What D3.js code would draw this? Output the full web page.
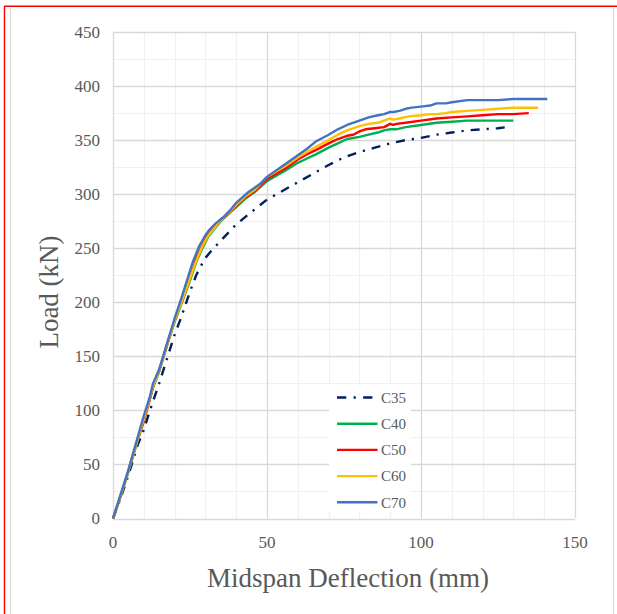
<!DOCTYPE html>
<html><head><meta charset="utf-8">
<script src="https://cdn.jsdelivr.net/npm/d3@7"></script>
<style>html,body{margin:0;padding:0;background:#fff;}svg{display:block;}</style>
</head><body>
<svg id="chart" width="617" height="614"></svg>
<script>
const seriesNames = ["C35","C40","C50","C60","C70"];
const seriesColors = ["#002060","#00b050","#ff0000","#ffc000","#4472c4"];
const xTicks = [0,50,100,150];
const yTicks = [0,50,100,150,200,250,300,350,400,450];

const c35X = [0,2,5,8,10,12,15,18,20,22,25,27,29,30,32,34,36,38,40,43,46,50,55,60,65,70,75,80,85,90,95,100,105,110,115,120,125,128];
const c35Y = [0,15,40,68,82,100,125,152,170,185,210,225,236,241,248,254,260,266,272,279,286,295,303,311,319,327,334,339,343,347,350,352,355,357,359,360,361,362];

const c40X = [0,2,5,8,10,13,15,18,20,22,25,27,29,31,33,35,38,40,43,46,50,53,56,60,63,66,70,73,76,78,80,83,86,88,90,92,95,100,105,110,115,120,125,130];
const c40Y = [0,16,43,72,90,121,136,164,182,197,220,237,250,261,268,275,283,288,296,302,312,317,322,329,333,337,343,347,351,352,353,355,357,359,360,360,362,364,366,367,368,368,368,368];

const c50X = [0,2,5,8,10,13,15,18,20,22,25,27,29,31,33,35,38,40,43,46,50,53,56,60,63,66,70,73,76,78,80,82,85,88,90,91,92,95,100,105,110,115,120,125,130,135];
const c50Y = [0,17,44,73,90,122,137,165,183,198,222,240,253,263,270,276,284,289,297,303,314,319,324,332,337,341,347,351,354,355,358,360,361,362,365,364,365,366,368,370,371,372,373,374,374,375];

const c60X = [0,2,5,8,10,13,15,18,20,22,25,27,29,31,33,35,38,40,43,46,50,53,56,60,63,66,70,73,76,80,83,86,88,90,91,93,96,100,103,105,108,110,115,120,125,130,138];
const c60Y = [0,17,44,73,92,122,137,165,183,198,222,238,252,262,269,276,284,290,298,304,316,321,326,334,339,344,350,355,359,363,365,366,368,370,369,370,372,373,374,374,375,376,377,378,379,380,380];

const c70X = [0,2,5,8,10,12,13,15,17,20,22,24,26,28,30,31,33,35,36,38,40,42,44,46,48,50,53,56,60,63,66,70,73,76,80,83,86,88,90,91,93,95,97,100,103,105,108,110,115,120,125,130,135,141];
const c70Y = [0,18,45,75,95,113,125,138,157,185,202,220,238,252,262,266,272,277,279,285,292,297,302,306,310,316,322,328,336,342,349,355,360,364,368,371,373,374,376,376,377,379,380,381,382,384,384,385,387,387,387,388,388,388];

const seriesX = [c35X,c40X,c50X,c60X,c70X];
const seriesY = [c35Y,c40Y,c50Y,c60Y,c70Y];

const svg = d3.select("#chart");
const font = "'Liberation Serif','Times New Roman',serif";
const textColor = "#595959";

// outer frame
svg.append("line").attr("x1",10.5).attr("x2",10.5).attr("y1",8).attr("y2",614).attr("stroke","#d9d9d9").attr("stroke-width",1.2);
svg.append("line").attr("x1",613.5).attr("x2",613.5).attr("y1",8).attr("y2",614).attr("stroke","#d9d9d9").attr("stroke-width",1.2);
svg.append("line").attr("x1",4.5).attr("x2",4.5).attr("y1",6).attr("y2",614).attr("stroke","#ff0000").attr("stroke-width",1.4);
svg.append("line").attr("x1",4).attr("x2",617).attr("y1",6.3).attr("y2",6.3).attr("stroke","#ff0000").attr("stroke-width",1.4);

const x = d3.scaleLinear().domain([0,150]).range([113,575]);
const y = d3.scaleLinear().domain([0,450]).range([518.5,32]);

const g = svg.append("g");
// minor grid
const minorX = d3.range(10,150,10).filter(v => v % 50 !== 0);
const minorY = d3.range(25,450,50);
g.selectAll(".mx").data(minorX).enter().append("line")
  .attr("x1",d=>Math.round(x(d))+0.5).attr("x2",d=>Math.round(x(d))+0.5)
  .attr("y1",y(0)).attr("y2",y(450)).attr("stroke","#f0f0f0").attr("stroke-width",1.2);
g.selectAll(".my").data(minorY).enter().append("line")
  .attr("y1",d=>Math.round(y(d))+0.5).attr("y2",d=>Math.round(y(d))+0.5)
  .attr("x1",x(0)).attr("x2",x(150)).attr("stroke","#f0f0f0").attr("stroke-width",1.2);
// major grid
g.selectAll(".Mx").data(xTicks).enter().append("line")
  .attr("x1",d=>Math.round(x(d))+0.5).attr("x2",d=>Math.round(x(d))+0.5)
  .attr("y1",y(0)).attr("y2",y(450)).attr("stroke","#d9d9d9").attr("stroke-width",1.3);
g.selectAll(".My").data(yTicks).enter().append("line")
  .attr("y1",d=>Math.round(y(d))+0.5).attr("y2",d=>Math.round(y(d))+0.5)
  .attr("x1",x(0)).attr("x2",x(150)).attr("stroke","#d9d9d9").attr("stroke-width",1.3);

// tick labels
svg.selectAll(".yl").data(yTicks).enter().append("text")
  .attr("x",100).attr("y",d=>y(d)+5.5).attr("text-anchor","end")
  .attr("font-family",font).attr("font-size",17).attr("fill",textColor).text(d=>d);
svg.selectAll(".xl").data(xTicks).enter().append("text")
  .attr("x",d=>x(d)).attr("y",548).attr("text-anchor","middle")
  .attr("font-family",font).attr("font-size",17).attr("fill",textColor).text(d=>d);

// axis titles
svg.append("text").attr("transform","translate(58,292) rotate(-90)").attr("text-anchor","middle")
  .attr("font-family",font).attr("font-size",27).attr("fill",textColor).text("Load (kN)");
svg.append("text").attr("x",348).attr("y",587).attr("text-anchor","middle")
  .attr("font-family",font).attr("font-size",27).attr("fill",textColor).text("Midspan Deflection (mm)");

// lines
const line = d3.line().x(d=>x(d[0])).y(d=>y(d[1]));
const clip = svg.append("g");
seriesNames.forEach((name,i)=>{
  const pts = seriesX[i].map((v,j)=>[v,seriesY[i][j]]);
  const p = clip.append("path").datum(pts).attr("d",line).attr("fill","none")
    .attr("stroke",seriesColors[i]).attr("stroke-width",2.4).attr("stroke-linejoin","round");
  if(i===0) p.attr("stroke-dasharray","9,7,2.2,7");
});

// legend
const lg = svg.append("g");
lg.append("rect").attr("x",329).attr("y",384).attr("width",82).attr("height",128).attr("fill","#fff");
seriesNames.forEach((name,i)=>{
  const yy = 397.5 + i*26.2;
  const l = lg.append("line").attr("x1",337).attr("x2",377.5).attr("y1",yy).attr("y2",yy)
    .attr("stroke",seriesColors[i]).attr("stroke-width",2.4);
  if(i===0) l.attr("stroke-dasharray","9.3,7.3,2.2,7.3");
  lg.append("text").attr("x",381).attr("y",yy+5.2).attr("font-family",font).attr("font-size",15)
    .attr("fill",textColor).text(name);
});
</script>
</body></html>
